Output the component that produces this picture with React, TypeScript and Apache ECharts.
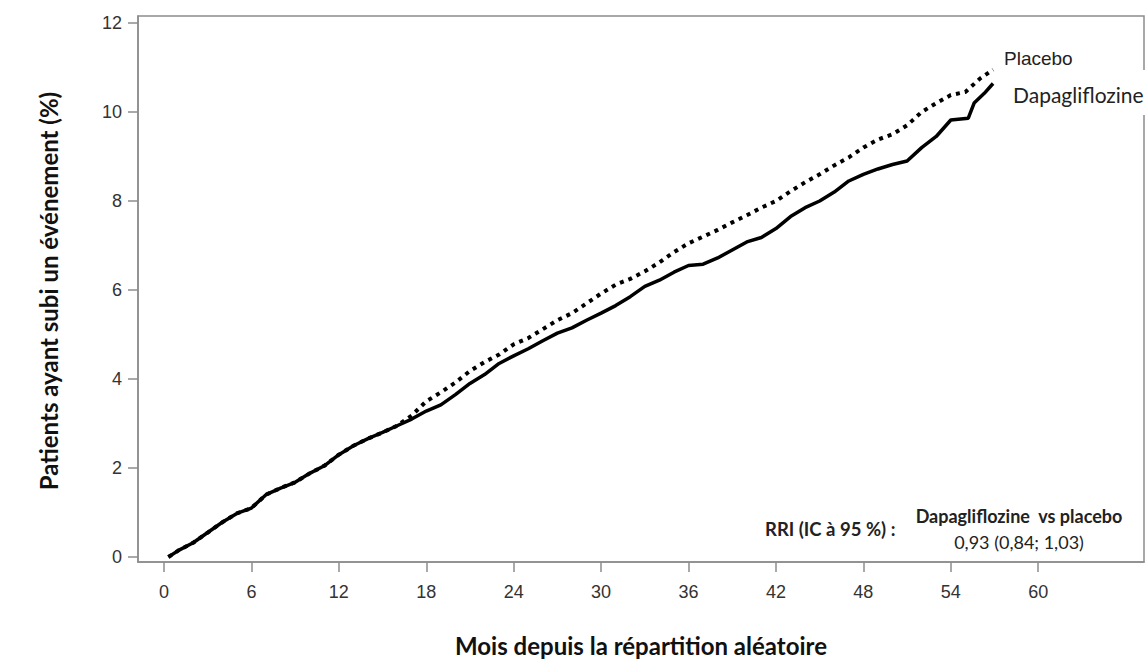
import React, { useEffect, useRef } from "react";
import * as echarts from "echarts";

const xTicks = [0, 6, 12, 18, 24, 30, 36, 42, 48, 54, 60];
const yTicks = [0, 2, 4, 6, 8, 10, 12];

const dapaMonths = [0.3, 1, 2, 3, 4, 5, 6, 7, 8, 9, 10, 11, 12, 13, 14, 15, 16, 17, 18, 19, 20, 21, 22, 23, 24, 25, 26, 27, 28, 29, 30, 31, 32, 33, 34, 35, 36, 37, 38, 39, 40, 41, 42, 43, 44, 45, 46, 47, 48, 49, 50, 51, 52, 53, 54, 55.2, 55.6, 56.3, 56.9];
const dapaValues = [0, 0.15, 0.32, 0.55, 0.78, 0.98, 1.1, 1.4, 1.55, 1.68, 1.88, 2.05, 2.3, 2.5, 2.66, 2.8, 2.95, 3.1, 3.28, 3.42, 3.65, 3.9, 4.1, 4.35, 4.52, 4.68, 4.86, 5.03, 5.15, 5.32, 5.48, 5.65, 5.85, 6.08, 6.22, 6.4, 6.55, 6.58, 6.72, 6.9, 7.08, 7.18, 7.38, 7.65, 7.85, 8.0, 8.2, 8.45, 8.6, 8.72, 8.82, 8.9, 9.2, 9.45, 9.82, 9.86, 10.2, 10.42, 10.64];

const placeboMonths = [0.3, 1, 2, 3, 4, 5, 6, 7, 8, 9, 10, 11, 12, 13, 14, 15, 16, 17, 18, 19, 20, 21, 22, 23, 24, 25, 26, 27, 28, 29, 30, 31, 32, 33, 34, 35, 36, 37, 38, 39, 40, 41, 42, 43, 44, 45, 46, 47, 48, 49, 50, 51, 52, 53, 54, 55, 56, 56.9];
const placeboValues = [0, 0.15, 0.32, 0.55, 0.78, 0.98, 1.1, 1.4, 1.55, 1.68, 1.88, 2.05, 2.3, 2.5, 2.66, 2.8, 2.95, 3.18, 3.5, 3.7, 3.92, 4.18, 4.38, 4.55, 4.78, 4.92, 5.12, 5.32, 5.48, 5.7, 5.92, 6.12, 6.25, 6.42, 6.62, 6.85, 7.05, 7.2, 7.35, 7.52, 7.68, 7.85, 8.0, 8.22, 8.42, 8.6, 8.8, 8.98, 9.2, 9.38, 9.5, 9.7, 10.0, 10.2, 10.38, 10.45, 10.75, 10.95];

const seriesNames = ["Dapagliflozine", "Placebo"];
const yTitle = "Patients ayant subi un événement (%)";
const xTitle = "Mois depuis la répartition aléatoire";
const hrLabel = "RRI (IC à 95 %) :";
const hrHeader = "Dapagliflozine  vs placebo";
const hrValue = "0,93 (0,84; 1,03)";

const calibri = "Lato, 'Open Sans', sans-serif";
const arial = "'Liberation Sans', Arial, sans-serif";

export default function App() {
  const ref = useRef<HTMLDivElement>(null);
  useEffect(() => {
    document.body.style.margin = "0";
    const chart = echarts.init(ref.current!, undefined, { renderer: "svg" });
    const axisGray = "#8c8c8c";
    chart.setOption({
      animation: false,
      backgroundColor: "#ffffff",
      grid: {
        left: 138,
        right: 3,
        top: 16,
        bottom: 97,
        show: true,
        borderColor: axisGray,
        borderWidth: 1.5,
      },
      xAxis: {
        type: "value",
        min: -1.785,
        max: 67.26,
        splitLine: { show: false },
        axisLine: { show: true, onZero: false, lineStyle: { color: axisGray, width: 1.5 } },
        axisTick: { show: true, length: 10, customValues: xTicks, lineStyle: { color: axisGray, width: 1.5 } },
        axisLabel: { customValues: xTicks, margin: 21, fontFamily: arial, fontSize: 18, color: "#333" },
      },
      yAxis: {
        type: "value",
        min: -0.112,
        max: 12.157,
        splitLine: { show: false },
        axisLine: { show: true, onZero: false, lineStyle: { color: axisGray, width: 1.5 } },
        axisTick: { show: true, length: 10, customValues: yTicks, lineStyle: { color: axisGray, width: 1.5 } },
        axisLabel: { customValues: yTicks, margin: 16, fontFamily: arial, fontSize: 18, color: "#333" },
      },
      series: [
        {
          name: seriesNames[0],
          type: "line",
          showSymbol: false,
          data: dapaMonths.map((m, i) => [m, dapaValues[i]]),
          lineStyle: { color: "#000", width: 3.5 },
          z: 3,
        },
        {
          name: seriesNames[1],
          type: "line",
          showSymbol: false,
          data: placeboMonths.map((m, i) => [m, placeboValues[i]]),
          lineStyle: { color: "#000", width: 4, type: [4, 5] },
          z: 2,
        },
      ],
      graphic: [
        { type: "rect", shape: { x: 1138, y: 70, width: 12, height: 45 }, style: { fill: "#fff" }, z: 100 },
        {
          type: "text", x: 1004, y: 58, z: 101,
          style: { text: seriesNames[1], font: `19px ${arial}`, fill: "#222", verticalAlign: "middle", textAlign: "left" },
        },
        {
          type: "text", x: 1013, y: 94, z: 101,
          style: { text: seriesNames[0], font: `21px ${calibri}`, fill: "#222", verticalAlign: "middle", textAlign: "left" },
        },
        {
          type: "text", x: 48, y: 291, rotation: Math.PI / 2, z: 101,
          style: { text: yTitle, font: `bold 24px ${calibri}`, fill: "#111", verticalAlign: "middle", textAlign: "center" },
        },
        {
          type: "text", x: 641, y: 645, z: 101,
          style: { text: xTitle, font: `bold 24px ${calibri}`, fill: "#111", verticalAlign: "middle", textAlign: "center" },
        },
        {
          type: "text", x: 765, y: 529, z: 101,
          style: { text: hrLabel, font: `bold 18.5px ${calibri}`, fill: "#222", verticalAlign: "middle", textAlign: "left" },
        },
        {
          type: "text", x: 1019, y: 516, z: 101,
          style: { text: hrHeader, font: `bold 18px ${calibri}`, fill: "#222", verticalAlign: "middle", textAlign: "center" },
        },
        {
          type: "text", x: 1019, y: 542, z: 101,
          style: { text: hrValue, font: `18px ${calibri}`, fill: "#222", verticalAlign: "middle", textAlign: "center" },
        },
      ],
    });
    return () => chart.dispose();
  }, []);
  return <div ref={ref} style={{ width: 1147, height: 659 }} />;
}
